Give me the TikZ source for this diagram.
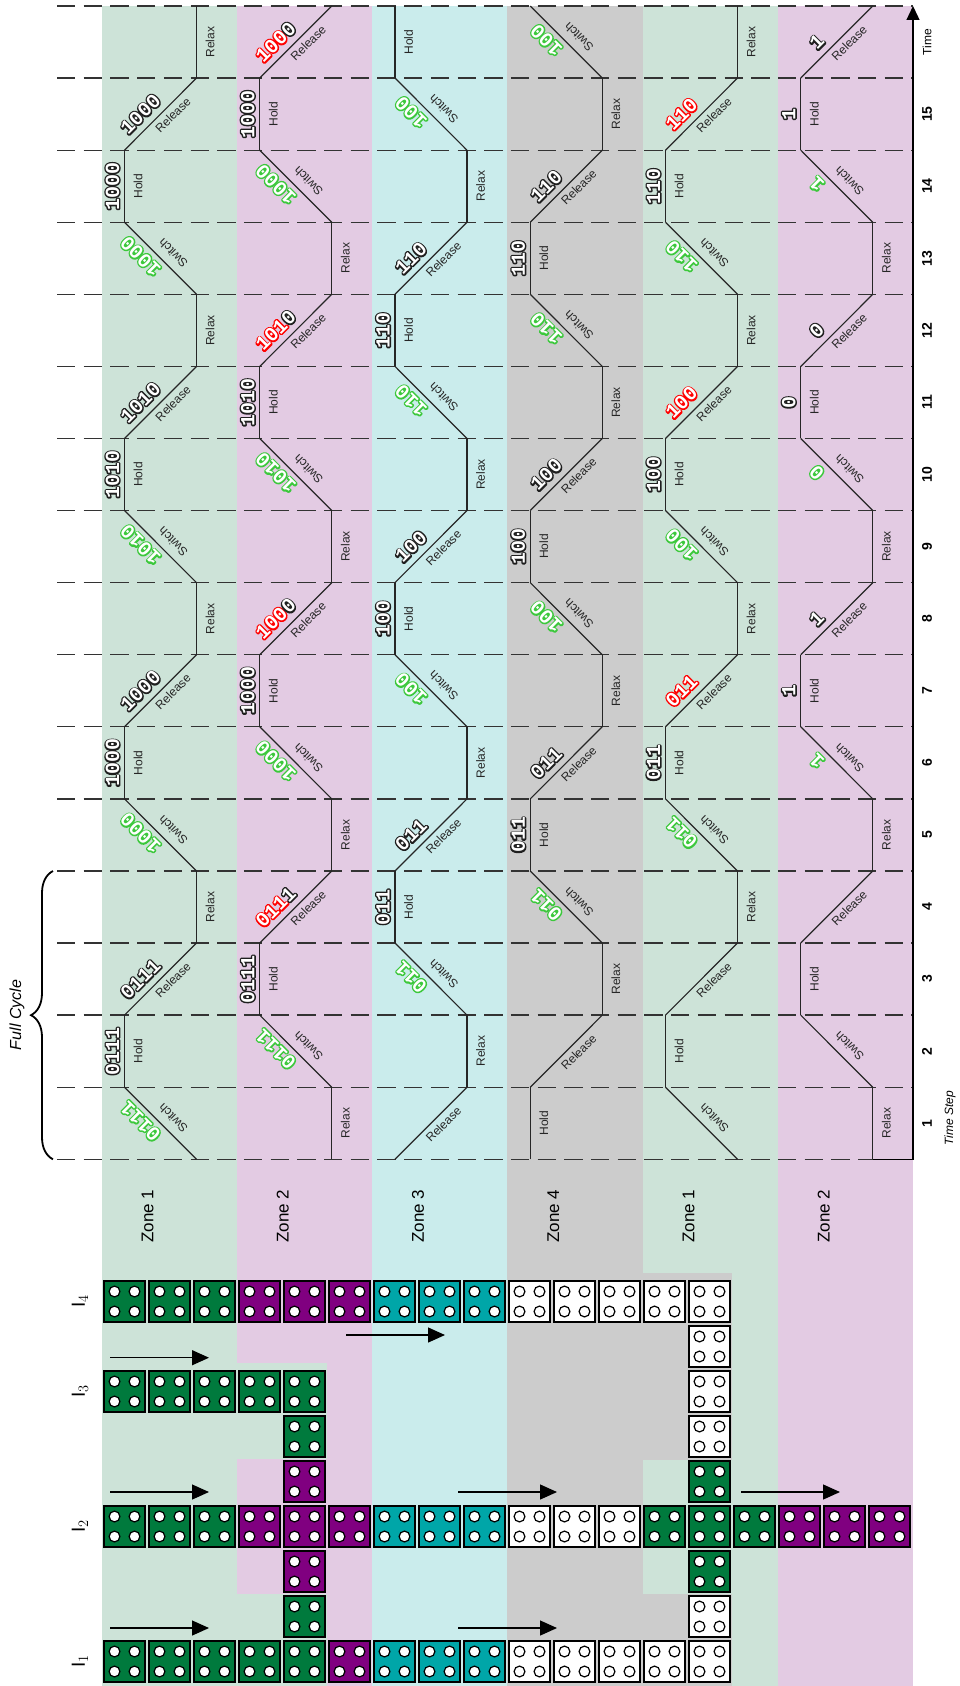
\documentclass[tikz,border=0pt]{standalone}
\usepackage{fontspec}
\setmainfont{Liberation Sans}
\newfontfamily\bitfont{Liberation Mono}
\usepackage{tikz}
\usetikzlibrary{positioning, arrows.meta, decorations.pathreplacing, calc}

\definecolor{brickG}{RGB}{0,122,61}
\definecolor{brickP}{RGB}{128,0,128}
\definecolor{brickC}{RGB}{0,166,168}
\definecolor{brickW}{RGB}{255,255,255}
\definecolor{laneG}{RGB}{205,227,216}
\definecolor{laneP}{RGB}{227,203,227}
\definecolor{laneC}{RGB}{202,236,236}
\definecolor{laneY}{RGB}{204,204,204}

% outlined digits: stroked copy underneath, white fill on top
\newcommand{\outl}[2]{\rlap{\special{pdf:literal direct 1 j 1 J 2.8 w #1 RG 1 Tr}#2\special{pdf:literal direct 0 Tr}}#2}
\newcommand{\gn}[1]{\outl{0.235 0.784 0.235}{#1}}
\newcommand{\bk}[1]{\outl{0.12 0.12 0.12}{#1}}
\newcommand{\rd}[1]{\outl{1 0 0}{#1}}

\newcommand{\brick}[3]{%
  \draw[brickbox, fill=#3] ({104+45*#1},{1281+45*#2}) rectangle ++(41,41);
  \foreach \dx in {10.5,30.5}
    \foreach \dy in {10.5,30.5}
      \draw[stud] ({104+45*#1+\dx},{1281+45*#2+\dy}) circle (5.4pt);}

\begin{document}
\begin{tikzpicture}[x=1pt, y=-1pt]
  \tikzstyle{stepline} = [dash pattern=on 18.3pt off 8.4pt, line width=1.3pt, black!80]
  \tikzstyle{track} = [line width=1.2pt, black!85]
  \tikzstyle{act} = [inner sep=0pt, text=black!85, font=\fontsize{12}{14}\selectfont]
  \tikzstyle{bits} = [inner sep=0pt, text=white, font=\bitfont\bfseries\fontsize{20}{22}\selectfont]
  \tikzstyle{brickbox} = [draw=black, line width=1.5pt]
  \tikzstyle{stud} = [draw=black, fill=white, line width=1.2pt]
  \tikzstyle{push} = [line width=1.3pt, -{Triangle[length=17pt, width=15pt]}]
  \tikzstyle{zone} = [rotate=90, font=\fontsize{17}{20}\selectfont]
  \tikzstyle{stepnum} = [rotate=90, font=\bfseries\fontsize{14}{16}\selectfont]

  \useasboundingbox (0,0) rectangle (959,1686);

  % lanes
  \foreach \bn/\col in {0/G, 1/P, 2/C, 3/Y, 4/G, 5/P}
    \fill[lane\col] ({101.5+135.25*\bn},6) rectangle ++(135.25,1680);
  \fill[laneG] (237,1363) rectangle (327,1459);
  \fill[laneG] (237,1594) rectangle (327,1686);
  \fill[laneY] (642.75,1273) rectangle (732,1460);
  \fill[laneY] (642.75,1594) rectangle (732,1686);

  \foreach \kk in {0,...,16}
    \draw[stepline] (57,{6+72.08*\kk}) -- (913,{6+72.08*\kk});

  % tracks
  \foreach \bn in {0,...,5}
    \foreach \sn in {1,...,16} {
      \pgfmathsetmacro\xl{124.5+135.25*\bn}
      \pgfmathsetmacro\xr{\xl+72}
      \pgfmathsetmacro\xm{\xl+36}
      \pgfmathsetmacro\yb{6+72.08*(17-\sn)}
      \pgfmathsetmacro\yt{\yb-72.08}
      \pgfmathsetmacro\ym{\yb-36.04}
      \pgfmathtruncatemacro\phase{mod(\sn+7-\bn,4)}
      \ifcase\phase
        \draw[track] (\xr,\yb) -- (\xl,\yt);
        \node[act, rotate=135] (act-\bn-\sn) at (\xm+12.5,\ym-5) {Switch};
      \or
        \draw[track] (\xl,\yb) -- (\xl,\yt);
        \node[act, rotate=90] (act-\bn-\sn) at (\xl+13.5,\ym) {Hold};
      \or
        \draw[track] (\xl,\yb) -- (\xr,\yt);
        \node[act, rotate=45] (act-\bn-\sn) at (\xm+12.5,\ym+1) {Release};
      \or
        \draw[track] (\xr,\yb) -- (\xr,\yt);
        \node[act, rotate=90] (act-\bn-\sn) at (\xr+13.5,\ym) {Relax};
      \fi
    }

  % bit labels
  \foreach \bn/\sn/\kind/\lab in {
      0/1/S/{\gn{0111}}, 0/2/H/{\bk{0111}}, 0/3/E/{\bk{0111}},
      0/5/S/{\gn{1000}}, 0/6/H/{\bk{1000}}, 0/7/E/{\bk{1000}},
      0/9/S/{\gn{1010}}, 0/10/H/{\bk{1010}}, 0/11/E/{\bk{1010}},
      0/13/S/{\gn{1000}}, 0/14/H/{\bk{1000}}, 0/15/E/{\bk{1000}},
      1/2/S/{\gn{0111}}, 1/3/H/{\bk{0111}}, 1/4/E/{\rd{011}\bk{1}},
      1/6/S/{\gn{1000}}, 1/7/H/{\bk{1000}}, 1/8/E/{\rd{100}\bk{0}},
      1/10/S/{\gn{1010}}, 1/11/H/{\bk{1010}}, 1/12/E/{\rd{101}\bk{0}},
      1/14/S/{\gn{1000}}, 1/15/H/{\bk{1000}}, 1/16/E/{\rd{100}\bk{0}},
      2/3/S/{\gn{011}}, 2/4/H/{\bk{011}}, 2/5/E/{\bk{011}},
      2/7/S/{\gn{100}}, 2/8/H/{\bk{100}}, 2/9/E/{\bk{100}},
      2/11/S/{\gn{110}}, 2/12/H/{\bk{110}}, 2/13/E/{\bk{110}},
      2/15/S/{\gn{100}},
      3/4/S/{\gn{011}}, 3/5/H/{\bk{011}}, 3/6/E/{\bk{011}},
      3/8/S/{\gn{100}}, 3/9/H/{\bk{100}}, 3/10/E/{\bk{100}},
      3/12/S/{\gn{110}}, 3/13/H/{\bk{110}}, 3/14/E/{\bk{110}},
      3/16/S/{\gn{100}},
      4/5/S/{\gn{011}}, 4/6/H/{\bk{011}}, 4/7/E/{\rd{011}},
      4/9/S/{\gn{100}}, 4/10/H/{\bk{100}}, 4/11/E/{\rd{100}},
      4/13/S/{\gn{110}}, 4/14/H/{\bk{110}}, 4/15/E/{\rd{110}},
      5/6/S/{\gn{1}}, 5/7/H/{\bk{1}}, 5/8/E/{\bk{1}},
      5/10/S/{\gn{0}}, 5/11/H/{\bk{0}}, 5/12/E/{\bk{0}},
      5/14/S/{\gn{1}}, 5/15/H/{\bk{1}}, 5/16/E/{\bk{1}}} {
    \pgfmathsetmacro\xl{124.5+135.25*\bn}
    \pgfmathsetmacro\xm{\xl+36}
    \pgfmathsetmacro\ym{6+72.08*(16.5-\sn)}
    \if\kind S
      \node[bits, rotate=135] (bits-\bn-\sn) at (\xm-20,\ym-2) {\lab};
    \else\if\kind H
      \node[bits, rotate=90] (bits-\bn-\sn) at (\xl-12,\ym) {\lab};
    \else
      \node[bits, rotate=45] (bits-\bn-\sn) at (\xm-20,\ym) {\lab};
    \fi\fi
  }

  % cycle brace and time axis
  \coordinate (cyclebot) at (53,1159.3);
  \coordinate (cycletop) at (53,871);
  \draw[decorate, decoration={brace, amplitude=22pt}, line width=1.8pt] (cyclebot) -- (cycletop);
  \node[rotate=90, font=\itshape\fontsize{16}{19}\selectfont] (fullcycle) at (17,1015) {Full Cycle};

  \coordinate (axisfoot) at (872.75,1159.3);
  \coordinate (axiscorner) at (913,1159.3);
  \coordinate (axistop) at (913,6);
  \draw[line width=1.3pt, -{Triangle[length=14pt, width=13pt]}] (axisfoot) -- (axiscorner) -- (axistop);

  \foreach \sn in {1,...,15}
    \node[stepnum] (step\sn) at (927,{6+72.08*(16.5-\sn)}) {\sn};
  \node[rotate=90, font=\fontsize{12}{14}\selectfont] (timelabel) at (927,42) {Time};
  \node[rotate=90, font=\itshape\fontsize{12}{14}\selectfont] (steplabel) at (950,1118) {Time Step};

  \foreach \bn/\zn in {0/1, 1/2, 2/3, 3/4, 4/1, 5/2}
    \node[zone] (zone\bn) at ({147.5+135.25*\bn},1216) {Zone \zn};

  % bricks
  \foreach \rj/\from/\upto/\col in {0/0/2/G, 0/3/5/P, 0/6/8/C, 0/9/13/W, 1/13/13/W,
      2/0/4/G, 2/13/13/W, 3/4/4/G, 3/13/13/W, 4/4/4/P, 4/13/13/G,
      5/0/2/G, 5/3/5/P, 5/6/8/C, 5/9/11/W, 5/12/14/G, 5/15/17/P,
      6/4/4/P, 6/13/13/G, 7/4/4/G, 7/13/13/W,
      8/0/4/G, 8/5/5/P, 8/6/8/C, 8/9/13/W}
    \foreach \ci in {\from,...,\upto}
      \brick{\ci}{\rj}{brick\col};

  \foreach \rj/\idx in {0/4, 2/3, 5/2, 8/1}
    \node[rotate=90, font=\fontsize{19}{22}\selectfont] (row\idx) at (80,{1301.5+45*\rj}) {$\mathrm{I}_{\idx}$};

  \foreach \an/\ax/\ay in {1/110/1357.7, 2/110/1492, 3/110/1628, 4/346/1335,
      5/458/1492, 6/458/1628, 7/741/1492} {
    \coordinate (pa\an) at (\ax,\ay);
    \coordinate (pb\an) at (\ax+99,\ay);
    \draw[push] (pa\an) -- (pb\an);
  }
\end{tikzpicture}
\end{document}
